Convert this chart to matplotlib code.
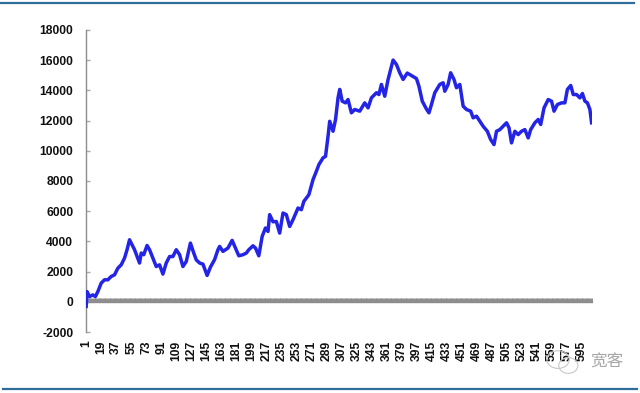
import matplotlib
matplotlib.use("Agg")
import matplotlib.pyplot as plt
from matplotlib.lines import Line2D
from matplotlib.patches import Ellipse
from matplotlib.ticker import FixedLocator

plt.rcParams['font.family'] = ['Liberation Sans', 'Noto Sans CJK SC', 'DejaVu Sans']

# ---- data ----
idx = [1, 2, 5, 9, 12, 15, 19, 23, 27, 31, 35, 39, 43, 47, 50, 53, 57, 59, 65, 67,
       70, 74, 77, 81, 85, 89, 93, 97, 101, 105, 109, 113, 117, 121, 126, 130, 133, 137, 141, 146,
       150, 155, 159, 161, 165, 171, 176, 180, 184, 189, 193, 196, 201, 204, 208, 212, 216, 219, 221, 225,
       229, 233, 237, 241, 245, 249, 255, 259, 262, 268, 273, 277, 280, 285, 288, 291, 293, 297, 300, 303,
       305, 308, 312, 315, 319, 323, 329, 335, 339, 343, 349, 352, 355, 359, 363, 369, 373, 377, 381, 386,
       392, 397, 400, 404, 409, 412, 415, 419, 425, 429, 431, 435, 438, 442, 445, 449, 453, 457, 462, 465,
       469, 473, 477, 482, 486, 490, 493, 497, 501, 505, 508, 511, 515, 519, 523, 527, 531, 534, 539, 543,
       546, 550, 555, 559, 562, 566, 571, 575, 578, 582, 585, 589, 593, 596, 599, 602, 605, 607]
values = [-300, 680, 350, 460, 350, 680, 1240, 1460, 1460, 1680, 1790, 2230, 2450, 2900, 3450, 4110, 3670, 3450, 2570, 3230,
          3120, 3730, 3450, 2900, 2340, 2450, 1840, 2570, 3000, 3000, 3450, 3120, 2340, 2670, 3890, 3230, 2780, 2570, 2500, 1750,
          2300, 2800, 3450, 3670, 3340, 3560, 4070, 3560, 3050, 3120, 3230, 3450, 3710, 3560, 3050, 4330, 4890, 4660, 5770, 5300,
          5320, 4550, 5880, 5770, 4990, 5440, 6210, 6100, 6650, 7090, 8090, 8640, 9080, 9530, 9630, 10960, 11950, 11290, 12070, 13500,
          14060, 13280, 13170, 13390, 12510, 12730, 12620, 13170, 12840, 13500, 13840, 13720, 14390, 13610, 14720, 16000, 15710, 15160, 14720, 15140,
          14940, 14780, 14270, 13280, 12760, 12510, 13060, 13840, 14390, 14500, 13940, 14390, 15160, 14720, 14170, 14390, 12950, 12730, 12620, 12180,
          12290, 11950, 11620, 11290, 10740, 10410, 11290, 11400, 11620, 11850, 11520, 10520, 11290, 11070, 11290, 11400, 10850, 11400, 11850, 12070,
          11740, 12840, 13390, 13280, 12620, 13060, 13170, 13170, 14060, 14320, 13720, 13720, 13500, 13790, 13280, 13170, 12730, 11850]
n_points = 607
xtick_labels = [str(v) for v in range(1, 596, 18)]
ytick_values = list(range(-2000, 18001, 2000))

fig = plt.figure(figsize=(6.4, 3.93), dpi=100)
ax = fig.add_axes([0.134, 0.155, 0.791, 0.769])

ax.plot(idx, values, color='#2424E6', linewidth=2.5, solid_joinstyle='round', zorder=3)

ax.set_xlim(0.5, n_points + 0.5)
ax.set_ylim(-2000, 18000)

for s in ['top', 'right']:
    ax.spines[s].set_visible(False)
ax.spines['left'].set_color('#8c8c8c')
ax.spines['left'].set_linewidth(1.0)
ax.spines['bottom'].set_position(('data', 0))
ax.spines['bottom'].set_color('#8c8c8c')
ax.spines['bottom'].set_linewidth(1.0)

ax.set_yticks(ytick_values)
ax.set_yticklabels([str(v) for v in ytick_values])
ax.tick_params(axis='y', direction='in', length=3, width=1, color='#aaaaaa', pad=9,
               labelsize=8.7, labelcolor='#111111')
for t in ax.get_yticklabels():
    t.set_fontweight('bold')

# dense category ticks on the zero line
ax.xaxis.set_major_locator(FixedLocator(list(range(1, n_points + 1))))
ax.tick_params(axis='x', direction='in', length=3.2, width=0.7, color='#8c8c8c',
               labelbottom=False)

# category labels at the bottom of the plot area
sec = ax.secondary_xaxis('bottom')
sec.spines['bottom'].set_visible(False)
sec.set_xticks(list(range(1, 596, 18)))
sec.set_xticklabels(xtick_labels, rotation=90, fontsize=8.7, fontweight='bold', color='#111111')
sec.tick_params(axis='x', length=0, pad=6)

# decorative rules
fig.add_artist(Line2D([0.0, 0.99], [0.993, 0.993], transform=fig.transFigure,
                      color='#2E6D9A', linewidth=1.6))
fig.add_artist(Line2D([0.005, 0.995], [0.010, 0.010], transform=fig.transFigure,
                      color='#2E6D9A', linewidth=1.6))

# watermark
fig.add_artist(Ellipse((0.872, 0.085), 0.035, 0.045, transform=fig.transFigure,
                       fill=False, edgecolor='#c8c8c8', linewidth=0.8))
fig.add_artist(Ellipse((0.888, 0.070), 0.030, 0.040, transform=fig.transFigure,
                       fill=False, edgecolor='#c8c8c8', linewidth=0.8))
fig.text(0.948, 0.079, '宽客', family=['Noto Sans CJK SC', 'DejaVu Sans'], fontsize=12,
         color='#a8a8a8', ha='center', va='center')

fig.savefig('out.png', dpi=100, facecolor='white')
